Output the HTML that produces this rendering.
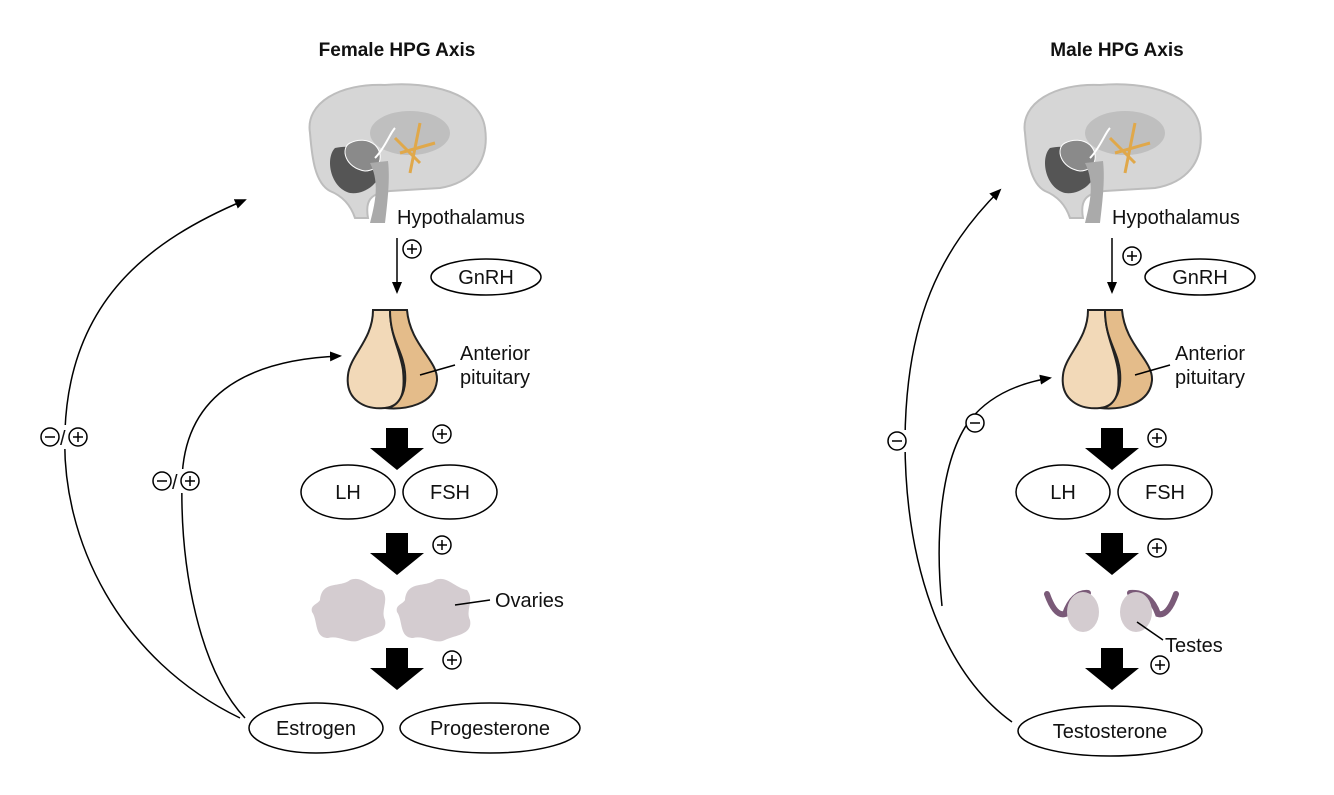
<!DOCTYPE html>
<html><head><meta charset="utf-8"><style>
html,body{margin:0;padding:0;background:#fff}
svg{display:block}
text{font-family:"Liberation Sans",Arial,sans-serif;fill:#111}
</style></head><body>
<svg width="1334" height="795" viewBox="0 0 1334 795" xmlns="http://www.w3.org/2000/svg">
<defs>
<marker id="ah" markerWidth="12" markerHeight="10" refX="10" refY="5" orient="auto" markerUnits="userSpaceOnUse">
<path d="M0,0 L12,5 L0,10 Z" fill="#000"/></marker>
<g id="brain">
<path d="M0,50 C-5,20 30,0 75,2 C120,-2 170,10 175,45 C180,80 160,100 130,105 L80,108 C60,110 55,118 58,135 L45,135 C40,120 30,112 20,108 C5,100 2,75 0,50 Z" fill="#d6d6d6" stroke="#bdbdbd" stroke-width="2"/>
<path d="M25,65 C15,75 20,105 40,110 C55,112 70,100 72,85 C70,70 45,60 25,65 Z" fill="#555"/>
<path d="M40,60 C30,65 35,85 55,88 C70,88 75,72 65,62 C58,56 48,56 40,60 Z" fill="#8a8a8a" stroke="#fff" stroke-width="1"/>
<path d="M60,80 C70,100 65,120 60,140 L75,140 C78,115 80,95 78,78 Z" fill="#aaa"/>
<ellipse cx="100" cy="50" rx="40" ry="22" fill="#bfbfbf"/>
<path d="M85,55 L110,80 M110,40 L100,90 M90,70 L125,60" stroke="#e0a84a" stroke-width="3" fill="none"/>
<path d="M65,75 C75,65 80,50 85,45" stroke="#fff" stroke-width="2" fill="none"/>
</g>
<g id="pit">
<path d="M28,0 C28,30 5,45 3,65 C0,90 20,100 40,98 C58,96 60,80 58,60 C55,40 45,25 45,0 Z" fill="#f2d9b8" stroke="#222" stroke-width="2"/>
<path d="M45,0 C45,30 58,40 60,62 C62,85 52,98 40,98 C60,100 90,95 92,70 C93,50 65,35 62,0 Z" fill="#e4bc8a" stroke="#222" stroke-width="2"/>
</g>
<g id="big"><path d="M-11,0 H11 V20 H27 L0,42 L-27,20 H-11 Z" fill="#000"/></g>
<g id="plus"><circle r="9" fill="#fff" stroke="#000" stroke-width="1.5"/><path d="M-5,0H5M0,-5V5" stroke="#000" stroke-width="1.5"/></g>
<g id="minus"><circle r="9" fill="#fff" stroke="#000" stroke-width="1.5"/><path d="M-5,0H5" stroke="#000" stroke-width="1.5"/></g>
<g id="blob"><path d="M-30,-10 C-28,-30 -10,-22 0,-30 C12,-35 20,-22 32,-20 C40,-10 30,0 35,10 C38,25 20,25 10,30 C0,35 -10,25 -22,28 C-36,28 -32,10 -38,2 C-40,-5 -32,-6 -30,-10 Z" fill="#d4ccd0"/></g>
</defs>

<!-- FEMALE -->
<text x="397" y="56" font-size="19" font-weight="bold" text-anchor="middle">Female HPG Axis</text>
<use href="#brain" x="310" y="83"/>
<text x="397" y="224" font-size="20">Hypothalamus</text>
<line x1="397" y1="238" x2="397" y2="292" stroke="#000" stroke-width="1.5" marker-end="url(#ah)"/>
<use href="#plus" x="412" y="249"/>
<ellipse cx="486" cy="277" rx="55" ry="18" fill="#fff" stroke="#000" stroke-width="1.5"/>
<text x="486" y="284" font-size="20" text-anchor="middle">GnRH</text>
<use href="#pit" x="345" y="310"/>
<line x1="420" y1="375" x2="455" y2="365" stroke="#000" stroke-width="1.5"/>
<text x="460" y="360" font-size="20">Anterior</text>
<text x="460" y="384" font-size="20">pituitary</text>
<use href="#big" x="397" y="428"/>
<use href="#plus" x="442" y="434"/>
<ellipse cx="348" cy="492" rx="47" ry="27" fill="#fff" stroke="#000" stroke-width="1.5"/>
<text x="348" y="499" font-size="20" text-anchor="middle">LH</text>
<ellipse cx="450" cy="492" rx="47" ry="27" fill="#fff" stroke="#000" stroke-width="1.5"/>
<text x="450" y="499" font-size="20" text-anchor="middle">FSH</text>
<use href="#big" x="397" y="533"/>
<use href="#plus" x="442" y="545"/>
<use href="#blob" x="350" y="610"/>
<use href="#blob" x="435" y="610"/>
<line x1="455" y1="605" x2="490" y2="600" stroke="#000" stroke-width="1.5"/>
<text x="495" y="607" font-size="20">Ovaries</text>
<use href="#big" x="397" y="648"/>
<use href="#plus" x="452" y="660"/>
<ellipse cx="316" cy="728" rx="67" ry="25" fill="#fff" stroke="#000" stroke-width="1.5"/>
<text x="316" y="735" font-size="20" text-anchor="middle">Estrogen</text>
<ellipse cx="490" cy="728" rx="90" ry="25" fill="#fff" stroke="#000" stroke-width="1.5"/>
<text x="490" y="735" font-size="20" text-anchor="middle">Progesterone</text>
<path d="M240,718 C120,660 60,540 65,430 C70,300 150,240 245,200" fill="none" stroke="#000" stroke-width="1.5" marker-end="url(#ah)"/>
<path d="M245,718 C200,670 180,570 182,480 C184,400 240,360 340,356" fill="none" stroke="#000" stroke-width="1.5" marker-end="url(#ah)"/>
<rect x="38" y="425" width="62" height="24" fill="#fff"/>
<use href="#minus" x="50" y="437"/><text x="60" y="445" font-size="20">/</text><use href="#plus" x="78" y="437"/>
<rect x="150" y="469" width="62" height="24" fill="#fff"/>
<use href="#minus" x="162" y="481"/><text x="172" y="489" font-size="20">/</text><use href="#plus" x="190" y="481"/>

<!-- MALE -->
<text x="1117" y="56" font-size="19" font-weight="bold" text-anchor="middle">Male HPG Axis</text>
<use href="#brain" x="1025" y="83"/>
<text x="1112" y="224" font-size="20">Hypothalamus</text>
<line x1="1112" y1="238" x2="1112" y2="292" stroke="#000" stroke-width="1.5" marker-end="url(#ah)"/>
<use href="#plus" x="1132" y="256"/>
<ellipse cx="1200" cy="277" rx="55" ry="18" fill="#fff" stroke="#000" stroke-width="1.5"/>
<text x="1200" y="284" font-size="20" text-anchor="middle">GnRH</text>
<use href="#pit" x="1060" y="310"/>
<line x1="1135" y1="375" x2="1170" y2="365" stroke="#000" stroke-width="1.5"/>
<text x="1175" y="360" font-size="20">Anterior</text>
<text x="1175" y="384" font-size="20">pituitary</text>
<use href="#big" x="1112" y="428"/>
<use href="#plus" x="1157" y="438"/>
<ellipse cx="1063" cy="492" rx="47" ry="27" fill="#fff" stroke="#000" stroke-width="1.5"/>
<text x="1063" y="499" font-size="20" text-anchor="middle">LH</text>
<ellipse cx="1165" cy="492" rx="47" ry="27" fill="#fff" stroke="#000" stroke-width="1.5"/>
<text x="1165" y="499" font-size="20" text-anchor="middle">FSH</text>
<use href="#big" x="1112" y="533"/>
<use href="#plus" x="1157" y="548"/>
<path d="M1047,594 C1052,608 1058,616 1065,614 C1070,600 1078,592 1088,593" stroke="#7a5a78" stroke-width="6" fill="none" stroke-linecap="round"/>
<path d="M1176,594 C1171,608 1165,616 1158,614 C1153,600 1145,592 1130,593" stroke="#7a5a78" stroke-width="6" fill="none" stroke-linecap="round"/>
<ellipse cx="1083" cy="612" rx="16" ry="20" fill="#d4ccd0"/>
<ellipse cx="1136" cy="612" rx="16" ry="20" fill="#d4ccd0"/>
<line x1="1137" y1="622" x2="1163" y2="640" stroke="#000" stroke-width="1.5"/>
<text x="1165" y="652" font-size="20">Testes</text>
<use href="#big" x="1112" y="648"/>
<use href="#plus" x="1160" y="665"/>
<ellipse cx="1110" cy="731" rx="92" ry="25" fill="#fff" stroke="#000" stroke-width="1.5"/>
<text x="1110" y="738" font-size="20" text-anchor="middle">Testosterone</text>
<path d="M1012,722 C940,670 905,560 905,440 C906,320 940,250 1000,190" fill="none" stroke="#000" stroke-width="1.5" marker-end="url(#ah)"/>
<path d="M942,606 C935,540 940,460 970,420 C990,395 1020,383 1050,378" fill="none" stroke="#000" stroke-width="1.5" marker-end="url(#ah)"/>
<rect x="886" y="430" width="22" height="22" fill="#fff"/>
<use href="#minus" x="897" y="441"/>
<use href="#minus" x="975" y="423"/>
</svg>
</body></html>
